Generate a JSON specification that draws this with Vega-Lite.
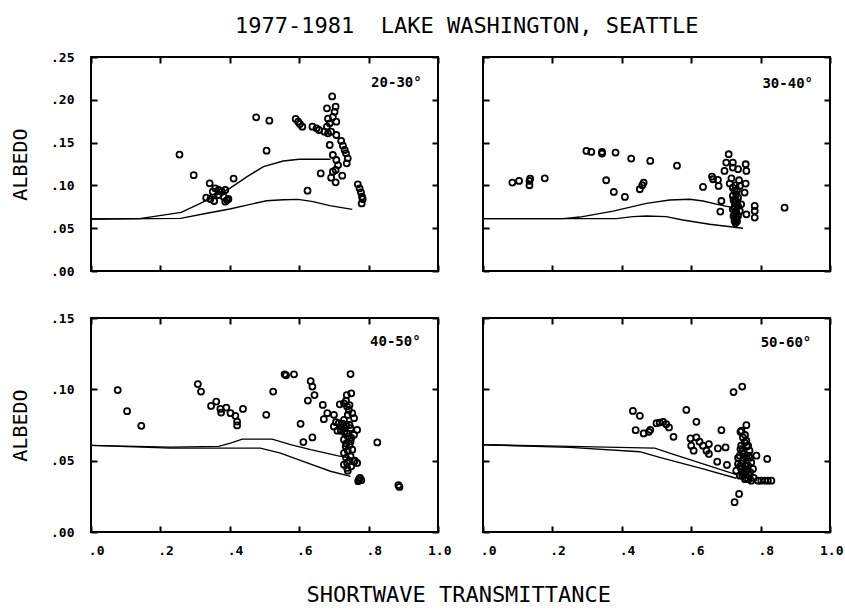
{
  "$schema": "https://vega.github.io/schema/vega-lite/v6.json",
  "background": "white",
  "padding": {"left": 9, "top": 15, "right": 3, "bottom": 5},
  "title": {"text": "1977-1981\u00a0\u00a0LAKE WASHINGTON, SEATTLE", "anchor": "middle", "dx": 40, "font": "DejaVu Sans Mono", "fontSize": 22, "fontWeight": "normal", "color": "black", "offset": 12},
  "datasets": {
    "pts": [
      {"p":"a","x":0.255,"y":0.136},{"p":"a","x":0.296,"y":0.112},{"p":"a","x":0.342,"y":0.1024},{"p":"a","x":0.332,"y":0.0857},{"p":"a","x":0.344,"y":0.0841},{"p":"a","x":0.351,"y":0.0927},{"p":"a","x":0.358,"y":0.0966},{"p":"a","x":0.368,"y":0.0946},{"p":"a","x":0.377,"y":0.0927},{"p":"a","x":0.387,"y":0.0946},{"p":"a","x":0.382,"y":0.0868},{"p":"a","x":0.392,"y":0.0829},{"p":"a","x":0.387,"y":0.081},{"p":"a","x":0.396,"y":0.0841},{"p":"a","x":0.368,"y":0.0888},{"p":"a","x":0.355,"y":0.0818},{"p":"a","x":0.411,"y":0.108},{"p":"a","x":0.476,"y":0.1795},{"p":"a","x":0.514,"y":0.1756},{"p":"a","x":0.506,"y":0.1406},{"p":"a","x":0.59,"y":0.1776},{"p":"a","x":0.597,"y":0.1745},{"p":"a","x":0.602,"y":0.1717},{"p":"a","x":0.609,"y":0.1686},{"p":"a","x":0.638,"y":0.1686},{"p":"a","x":0.65,"y":0.1667},{"p":"a","x":0.657,"y":0.1647},{"p":"a","x":0.662,"y":0.114},{"p":"a","x":0.624,"y":0.0938},
      {"p":"a","x":0.695,"y":0.204},{"p":"a","x":0.68,"y":0.19},{"p":"a","x":0.705,"y":0.192},{"p":"a","x":0.702,"y":0.186},{"p":"a","x":0.697,"y":0.18},{"p":"a","x":0.683,"y":0.178},{"p":"a","x":0.707,"y":0.1745},{"p":"a","x":0.688,"y":0.1725},{"p":"a","x":0.68,"y":0.1686},{"p":"a","x":0.673,"y":0.1628},{"p":"a","x":0.692,"y":0.1628},{"p":"a","x":0.683,"y":0.1608},{"p":"a","x":0.707,"y":0.1589},{"p":"a","x":0.688,"y":0.1472},{"p":"a","x":0.721,"y":0.1519},{"p":"a","x":0.726,"y":0.1464},{"p":"a","x":0.731,"y":0.1414},{"p":"a","x":0.735,"y":0.1375},{"p":"a","x":0.74,"y":0.1316},{"p":"a","x":0.737,"y":0.1258},{"p":"a","x":0.697,"y":0.1355},{"p":"a","x":0.707,"y":0.1297},{"p":"a","x":0.712,"y":0.1238},{"p":"a","x":0.705,"y":0.118},{"p":"a","x":0.697,"y":0.116},{"p":"a","x":0.692,"y":0.109},{"p":"a","x":0.705,"y":0.1036},{"p":"a","x":0.724,"y":0.1114},{"p":"a","x":0.769,"y":0.1012},{"p":"a","x":0.774,"y":0.0966},{"p":"a","x":0.778,"y":0.0919},{"p":"a","x":0.781,"y":0.0868},{"p":"a","x":0.783,"y":0.0841},{"p":"a","x":0.78,"y":0.079},

      {"p":"b","x":0.0845,"y":0.1033},{"p":"b","x":0.104,"y":0.1052},{"p":"b","x":0.134,"y":0.1052},{"p":"b","x":0.134,"y":0.1002},{"p":"b","x":0.136,"y":0.108},{"p":"b","x":0.178,"y":0.1083},{"p":"b","x":0.298,"y":0.1403},{"p":"b","x":0.312,"y":0.1391},{"p":"b","x":0.343,"y":0.1391},{"p":"b","x":0.343,"y":0.1372},{"p":"b","x":0.382,"y":0.1383},{"p":"b","x":0.427,"y":0.1313},{"p":"b","x":0.482,"y":0.1286},{"p":"b","x":0.559,"y":0.1231},{"p":"b","x":0.355,"y":0.106},{"p":"b","x":0.377,"y":0.0924},{"p":"b","x":0.409,"y":0.0865},{"p":"b","x":0.463,"y":0.1033},{"p":"b","x":0.459,"y":0.1002},{"p":"b","x":0.452,"y":0.0955},{"p":"b","x":0.634,"y":0.0982},{"p":"b","x":0.66,"y":0.1103},{"p":"b","x":0.663,"y":0.1072},{"p":"b","x":0.677,"y":0.1064},{"p":"b","x":0.679,"y":0.0994},{"p":"b","x":0.708,"y":0.1364},{"p":"b","x":0.701,"y":0.1267},{"p":"b","x":0.72,"y":0.1267},{"p":"b","x":0.72,"y":0.1208},{"p":"b","x":0.696,"y":0.1169},{"p":"b","x":0.735,"y":0.1189},{"p":"b","x":0.757,"y":0.1247},{"p":"b","x":0.759,"y":0.1169},{"p":"b","x":0.716,"y":0.1083},{"p":"b","x":0.738,"y":0.106},{"p":"b","x":0.711,"y":0.1021},{"p":"b","x":0.757,"y":0.1021},{"p":"b","x":0.72,"y":0.0974},{"p":"b","x":0.74,"y":0.0994},{"p":"b","x":0.754,"y":0.0916},{"p":"b","x":0.72,"y":0.0877},{"p":"b","x":0.687,"y":0.0818},{"p":"b","x":0.684,"y":0.0694},{"p":"b","x":0.73,"y":0.0818},{"p":"b","x":0.744,"y":0.0779},{"p":"b","x":0.725,"y":0.074},{"p":"b","x":0.73,"y":0.0682},{"p":"b","x":0.73,"y":0.0624},{"p":"b","x":0.725,"y":0.0585},{"p":"b","x":0.74,"y":0.0701},{"p":"b","x":0.759,"y":0.0662},{"p":"b","x":0.783,"y":0.076},{"p":"b","x":0.783,"y":0.0701},{"p":"b","x":0.783,"y":0.0624},{"p":"b","x":0.869,"y":0.074},{"p":"b","x":0.725,"y":0.0935},{"p":"b","x":0.73,"y":0.0896},{"p":"b","x":0.735,"y":0.0857},{"p":"b","x":0.725,"y":0.0799},{"p":"b","x":0.735,"y":0.076},{"p":"b","x":0.72,"y":0.0721},{"p":"b","x":0.735,"y":0.0643},{"p":"b","x":0.725,"y":0.0662},{"p":"b","x":0.73,"y":0.0604},
      {"p":"b","x":0.728,"y":0.1},{"p":"b","x":0.732,"y":0.094},{"p":"b","x":0.722,"y":0.083},{"p":"b","x":0.732,"y":0.078},{"p":"b","x":0.728,"y":0.07},{"p":"b","x":0.722,"y":0.064},{"p":"b","x":0.732,"y":0.058},{"p":"b","x":0.728,"y":0.056},

      {"p":"c","x":0.077,"y":0.0995},{"p":"c","x":0.104,"y":0.0847},{"p":"c","x":0.145,"y":0.0744},{"p":"c","x":0.308,"y":0.1037},{"p":"c","x":0.317,"y":0.0984},{"p":"c","x":0.346,"y":0.0884},{"p":"c","x":0.361,"y":0.0914},{"p":"c","x":0.373,"y":0.0863},{"p":"c","x":0.375,"y":0.0837},{"p":"c","x":0.39,"y":0.0872},{"p":"c","x":0.402,"y":0.0833},{"p":"c","x":0.416,"y":0.0814},{"p":"c","x":0.421,"y":0.0774},{"p":"c","x":0.421,"y":0.0747},{"p":"c","x":0.438,"y":0.0863},{"p":"c","x":0.505,"y":0.0821},{"p":"c","x":0.525,"y":0.0984},{"p":"c","x":0.558,"y":0.1105},{"p":"c","x":0.562,"y":0.1098},{"p":"c","x":0.585,"y":0.1105},{"p":"c","x":0.633,"y":0.1058},{"p":"c","x":0.638,"y":0.1019},{"p":"c","x":0.644,"y":0.096},{"p":"c","x":0.625,"y":0.0921},{"p":"c","x":0.668,"y":0.0891},{"p":"c","x":0.671,"y":0.0791},{"p":"c","x":0.604,"y":0.0758},{"p":"c","x":0.612,"y":0.063},{"p":"c","x":0.638,"y":0.0663},{"p":"c","x":0.681,"y":0.0833},{"p":"c","x":0.748,"y":0.1107},{"p":"c","x":0.75,"y":0.0972},{"p":"c","x":0.737,"y":0.096},{"p":"c","x":0.717,"y":0.0895},{"p":"c","x":0.7,"y":0.0821},
      {"p":"c","x":0.729,"y":0.0902},{"p":"c","x":0.738,"y":0.0879},{"p":"c","x":0.743,"y":0.0856},{"p":"c","x":0.753,"y":0.0833},{"p":"c","x":0.758,"y":0.0798},{"p":"c","x":0.729,"y":0.0786},{"p":"c","x":0.714,"y":0.0763},{"p":"c","x":0.7,"y":0.074},{"p":"c","x":0.729,"y":0.0728},{"p":"c","x":0.748,"y":0.0728},{"p":"c","x":0.767,"y":0.0716},{"p":"c","x":0.738,"y":0.0693},{"p":"c","x":0.758,"y":0.0681},{"p":"c","x":0.729,"y":0.0647},{"p":"c","x":0.748,"y":0.0635},{"p":"c","x":0.734,"y":0.06},{"p":"c","x":0.753,"y":0.0577},{"p":"c","x":0.729,"y":0.0553},{"p":"c","x":0.748,"y":0.053},{"p":"c","x":0.758,"y":0.0495},{"p":"c","x":0.738,"y":0.0484},{"p":"c","x":0.767,"y":0.0484},{"p":"c","x":0.738,"y":0.0449},{"p":"c","x":0.729,"y":0.0472},{"p":"c","x":0.772,"y":0.0367},{"p":"c","x":0.775,"y":0.0379},{"p":"c","x":0.779,"y":0.0363},{"p":"c","x":0.77,"y":0.0356},{"p":"c","x":0.825,"y":0.0628},{"p":"c","x":0.886,"y":0.0328},{"p":"c","x":0.889,"y":0.0316},
      {"p":"c","x":0.735,"y":0.092},{"p":"c","x":0.745,"y":0.089},{"p":"c","x":0.74,"y":0.082},{"p":"c","x":0.725,"y":0.076},{"p":"c","x":0.735,"y":0.075},{"p":"c","x":0.745,"y":0.075},{"p":"c","x":0.72,"y":0.071},{"p":"c","x":0.73,"y":0.07},{"p":"c","x":0.74,"y":0.067},{"p":"c","x":0.75,"y":0.066},{"p":"c","x":0.735,"y":0.062},{"p":"c","x":0.745,"y":0.061},{"p":"c","x":0.74,"y":0.057},{"p":"c","x":0.735,"y":0.052},{"p":"c","x":0.745,"y":0.05},{"p":"c","x":0.75,"y":0.046},{"p":"c","x":0.74,"y":0.043},{"p":"c","x":0.71,"y":0.071},{"p":"c","x":0.706,"y":0.077},{"p":"c","x":0.76,"y":0.05},

      {"p":"d","x":0.432,"y":0.0849},{"p":"d","x":0.452,"y":0.0814},{"p":"d","x":0.44,"y":0.0714},{"p":"d","x":0.463,"y":0.0691},{"p":"d","x":0.478,"y":0.0702},{"p":"d","x":0.482,"y":0.0716},{"p":"d","x":0.5,"y":0.0763},{"p":"d","x":0.509,"y":0.0767},{"p":"d","x":0.519,"y":0.0772},{"p":"d","x":0.528,"y":0.0756},{"p":"d","x":0.536,"y":0.0733},{"p":"d","x":0.549,"y":0.0667},{"p":"d","x":0.586,"y":0.0856},{"p":"d","x":0.615,"y":0.0772},{"p":"d","x":0.598,"y":0.0656},{"p":"d","x":0.6,"y":0.0605},{"p":"d","x":0.607,"y":0.057},{"p":"d","x":0.615,"y":0.0663},{"p":"d","x":0.624,"y":0.0633},{"p":"d","x":0.634,"y":0.0605},{"p":"d","x":0.644,"y":0.057},{"p":"d","x":0.651,"y":0.0616},{"p":"d","x":0.651,"y":0.0547},{"p":"d","x":0.677,"y":0.0586},{"p":"d","x":0.675,"y":0.0493},{"p":"d","x":0.687,"y":0.0714},{"p":"d","x":0.699,"y":0.0593},{"p":"d","x":0.703,"y":0.047},{"p":"d","x":0.722,"y":0.0981},{"p":"d","x":0.747,"y":0.1019},{"p":"d","x":0.759,"y":0.0749},{"p":"d","x":0.742,"y":0.0702},{"p":"d","x":0.819,"y":0.0512},{"p":"d","x":0.738,"y":0.0267},{"p":"d","x":0.725,"y":0.0209},{"p":"d","x":0.788,"y":0.0535},
      {"p":"d","x":0.749,"y":0.0663},{"p":"d","x":0.759,"y":0.064},{"p":"d","x":0.744,"y":0.0605},{"p":"d","x":0.764,"y":0.0605},{"p":"d","x":0.749,"y":0.057},{"p":"d","x":0.768,"y":0.057},{"p":"d","x":0.74,"y":0.0535},{"p":"d","x":0.759,"y":0.0523},{"p":"d","x":0.749,"y":0.05},{"p":"d","x":0.773,"y":0.0488},{"p":"d","x":0.735,"y":0.0477},{"p":"d","x":0.764,"y":0.0465},{"p":"d","x":0.744,"y":0.0442},{"p":"d","x":0.778,"y":0.0442},{"p":"d","x":0.754,"y":0.0419},{"p":"d","x":0.768,"y":0.0395},{"p":"d","x":0.74,"y":0.0395},{"p":"d","x":0.759,"y":0.0372},{"p":"d","x":0.773,"y":0.036},{"p":"d","x":0.73,"y":0.043},{"p":"d","x":0.754,"y":0.0628},{"p":"d","x":0.742,"y":0.0581},{"p":"d","x":0.766,"y":0.0535},{"p":"d","x":0.756,"y":0.0465},{"p":"d","x":0.747,"y":0.0395},
      {"p":"d","x":0.745,"y":0.071},{"p":"d","x":0.755,"y":0.068},{"p":"d","x":0.76,"y":0.06},{"p":"d","x":0.75,"y":0.055},{"p":"d","x":0.77,"y":0.052},{"p":"d","x":0.745,"y":0.048},{"p":"d","x":0.76,"y":0.044},{"p":"d","x":0.75,"y":0.041},{"p":"d","x":0.77,"y":0.042},{"p":"d","x":0.755,"y":0.037},{"p":"d","x":0.765,"y":0.037},{"p":"d","x":0.78,"y":0.038},{"p":"d","x":0.74,"y":0.046},{"p":"d","x":0.735,"y":0.052},
      {"p":"d","x":0.793,"y":0.036},{"p":"d","x":0.802,"y":0.036},{"p":"d","x":0.812,"y":0.036},{"p":"d","x":0.821,"y":0.036},{"p":"d","x":0.831,"y":0.036}
    ],
    "curves": [
      {"p":"a","c":"u","x":0,"y":0.0607},{"p":"a","c":"u","x":0.14,"y":0.0612},{"p":"a","c":"u","x":0.26,"y":0.0685},{"p":"a","c":"u","x":0.315,"y":0.079},{"p":"a","c":"u","x":0.353,"y":0.087},{"p":"a","c":"u","x":0.4,"y":0.0966},{"p":"a","c":"u","x":0.449,"y":0.11},{"p":"a","c":"u","x":0.497,"y":0.122},{"p":"a","c":"u","x":0.554,"y":0.1285},{"p":"a","c":"u","x":0.6,"y":0.1305},{"p":"a","c":"u","x":0.69,"y":0.1305},
      {"p":"a","c":"l","x":0,"y":0.0607},{"p":"a","c":"l","x":0.258,"y":0.0615},{"p":"a","c":"l","x":0.334,"y":0.0674},{"p":"a","c":"l","x":0.4,"y":0.0724},{"p":"a","c":"l","x":0.449,"y":0.077},{"p":"a","c":"l","x":0.506,"y":0.082},{"p":"a","c":"l","x":0.554,"y":0.0833},{"p":"a","c":"l","x":0.597,"y":0.0837},{"p":"a","c":"l","x":0.64,"y":0.081},{"p":"a","c":"l","x":0.688,"y":0.0763},{"p":"a","c":"l","x":0.753,"y":0.072},
      {"p":"b","c":"u","x":0,"y":0.0612},{"p":"b","c":"u","x":0.23,"y":0.0612},{"p":"b","c":"u","x":0.279,"y":0.063},{"p":"b","c":"u","x":0.375,"y":0.07},{"p":"b","c":"u","x":0.471,"y":0.079},{"p":"b","c":"u","x":0.538,"y":0.083},{"p":"b","c":"u","x":0.596,"y":0.0838},{"p":"b","c":"u","x":0.634,"y":0.0818},{"p":"b","c":"u","x":0.682,"y":0.0772},{"p":"b","c":"u","x":0.72,"y":0.074},
      {"p":"b","c":"l","x":0,"y":0.0612},{"p":"b","c":"l","x":0.384,"y":0.0612},{"p":"b","c":"l","x":0.432,"y":0.0635},{"p":"b","c":"l","x":0.471,"y":0.0643},{"p":"b","c":"l","x":0.528,"y":0.0635},{"p":"b","c":"l","x":0.576,"y":0.0596},{"p":"b","c":"l","x":0.653,"y":0.0546},{"p":"b","c":"l","x":0.749,"y":0.0499},
      {"p":"c","c":"u","x":0,"y":0.0607},{"p":"c","c":"u","x":0.229,"y":0.0595},{"p":"c","c":"u","x":0.368,"y":0.06},{"p":"c","c":"u","x":0.402,"y":0.0623},{"p":"c","c":"u","x":0.436,"y":0.0651},{"p":"c","c":"u","x":0.522,"y":0.0651},{"p":"c","c":"u","x":0.575,"y":0.0612},{"p":"c","c":"u","x":0.633,"y":0.0577},{"p":"c","c":"u","x":0.719,"y":0.053},{"p":"c","c":"u","x":0.748,"y":0.0519},
      {"p":"c","c":"l","x":0,"y":0.0607},{"p":"c","c":"l","x":0.229,"y":0.0588},{"p":"c","c":"l","x":0.383,"y":0.0588},{"p":"c","c":"l","x":0.488,"y":0.0588},{"p":"c","c":"l","x":0.546,"y":0.0553},{"p":"c","c":"l","x":0.623,"y":0.0484},{"p":"c","c":"l","x":0.69,"y":0.0426},{"p":"c","c":"l","x":0.748,"y":0.039},
      {"p":"d","c":"u","x":0,"y":0.0612},{"p":"d","c":"u","x":0.25,"y":0.06},{"p":"d","c":"u","x":0.495,"y":0.0588},{"p":"d","c":"u","x":0.538,"y":0.0553},{"p":"d","c":"u","x":0.634,"y":0.0477},{"p":"d","c":"u","x":0.73,"y":0.0402},
      {"p":"d","c":"l","x":0,"y":0.0612},{"p":"d","c":"l","x":0.25,"y":0.0593},{"p":"d","c":"l","x":0.452,"y":0.0563},{"p":"d","c":"l","x":0.509,"y":0.0523},{"p":"d","c":"l","x":0.634,"y":0.0442},{"p":"d","c":"l","x":0.73,"y":0.0377}
    ],
    "labels": [
      {"p":"a","x":0.953,"y":0.2196,"t":"20-30°"},
      {"p":"b","x":0.951,"y":0.218,"t":"30-40°"},
      {"p":"c","x":0.95,"y":0.133,"t":"40-50°"},
      {"p":"d","x":0.946,"y":0.1326,"t":"50-60°"}
    ]
  },
  "vconcat": [
    {
      "title": {"text": "SHORTWAVE TRANSMITTANCE", "orient": "bottom", "anchor": "middle", "dx": 32, "font": "DejaVu Sans Mono", "fontSize": 22, "fontWeight": "normal", "color": "black", "offset": 27},
      "bounds": "flush",
      "concat": [
        {
          "width": 347, "height": 214,
          "layer": [
            {"data": {"name": "pts"}, "transform": [{"filter": "datum.p == 'a'"}],
             "mark": {"type": "point", "shape": "circle", "filled": false, "color": "black", "size": 36, "strokeWidth": 1.8, "opacity": 1},
             "encoding": {
               "x": {"field": "x", "type": "quantitative", "scale": {"domain": [0, 1], "nice": false}, "axis": {"values": [0, 0.2, 0.4, 0.6, 0.8, 1], "labels": false, "title": null}},
               "y": {"field": "y", "type": "quantitative", "scale": {"domain": [0, 0.25], "nice": false}, "axis": {"values": [0, 0.05, 0.1, 0.15, 0.2, 0.25], "labelExpr": "substring(format(datum.value, '.2f'), 1)", "title": "ALBEDO"}}
             }},
            {"data": {"name": "curves"}, "transform": [{"filter": "datum.p == 'a'"}],
             "mark": {"type": "line", "color": "black", "strokeWidth": 1.4},
             "encoding": {
               "x": {"field": "x", "type": "quantitative"},
               "y": {"field": "y", "type": "quantitative"},
               "detail": {"field": "c"}
             }},
            {"data": {"name": "labels"}, "transform": [{"filter": "datum.p == 'a'"}],
             "mark": {"type": "text", "align": "right", "baseline": "middle", "font": "DejaVu Sans Mono", "fontSize": 14, "fontWeight": "bold", "color": "black"},
             "encoding": {
               "x": {"field": "x", "type": "quantitative"},
               "y": {"field": "y", "type": "quantitative"},
               "text": {"field": "t"}
             }}
          ]
        },
        {
          "width": 347, "height": 214,
          "layer": [
            {"data": {"name": "pts"}, "transform": [{"filter": "datum.p == 'b'"}],
             "mark": {"type": "point", "shape": "circle", "filled": false, "color": "black", "size": 36, "strokeWidth": 1.8, "opacity": 1},
             "encoding": {
               "x": {"field": "x", "type": "quantitative", "scale": {"domain": [0, 1], "nice": false}, "axis": {"values": [0, 0.2, 0.4, 0.6, 0.8, 1], "labels": false, "title": null}},
               "y": {"field": "y", "type": "quantitative", "scale": {"domain": [0, 0.25], "nice": false}, "axis": {"values": [0, 0.05, 0.1, 0.15, 0.2, 0.25], "labels": false, "title": null}}
             }},
            {"data": {"name": "curves"}, "transform": [{"filter": "datum.p == 'b'"}],
             "mark": {"type": "line", "color": "black", "strokeWidth": 1.4},
             "encoding": {
               "x": {"field": "x", "type": "quantitative"},
               "y": {"field": "y", "type": "quantitative"},
               "detail": {"field": "c"}
             }},
            {"data": {"name": "labels"}, "transform": [{"filter": "datum.p == 'b'"}],
             "mark": {"type": "text", "align": "right", "baseline": "middle", "font": "DejaVu Sans Mono", "fontSize": 14, "fontWeight": "bold", "color": "black"},
             "encoding": {
               "x": {"field": "x", "type": "quantitative"},
               "y": {"field": "y", "type": "quantitative"},
               "text": {"field": "t"}
             }}
          ]
        },
        {
          "width": 347, "height": 214,
          "layer": [
            {"data": {"name": "pts"}, "transform": [{"filter": "datum.p == 'c'"}],
             "mark": {"type": "point", "shape": "circle", "filled": false, "color": "black", "size": 36, "strokeWidth": 1.8, "opacity": 1},
             "encoding": {
               "x": {"field": "x", "type": "quantitative", "scale": {"domain": [0, 1], "nice": false}, "axis": {"values": [0, 0.2, 0.4, 0.6, 0.8, 1], "labelExpr": "datum.value >= 1 ? '1.0' : substring(format(datum.value, '.1f'), 1)", "title": null}},
               "y": {"field": "y", "type": "quantitative", "scale": {"domain": [0, 0.15], "nice": false}, "axis": {"values": [0, 0.05, 0.1, 0.15], "labelExpr": "substring(format(datum.value, '.2f'), 1)", "title": "ALBEDO"}}
             }},
            {"data": {"name": "curves"}, "transform": [{"filter": "datum.p == 'c'"}],
             "mark": {"type": "line", "color": "black", "strokeWidth": 1.4},
             "encoding": {
               "x": {"field": "x", "type": "quantitative"},
               "y": {"field": "y", "type": "quantitative"},
               "detail": {"field": "c"}
             }},
            {"data": {"name": "labels"}, "transform": [{"filter": "datum.p == 'c'"}],
             "mark": {"type": "text", "align": "right", "baseline": "middle", "font": "DejaVu Sans Mono", "fontSize": 14, "fontWeight": "bold", "color": "black"},
             "encoding": {
               "x": {"field": "x", "type": "quantitative"},
               "y": {"field": "y", "type": "quantitative"},
               "text": {"field": "t"}
             }}
          ]
        },
        {
          "width": 347, "height": 214,
          "layer": [
            {"data": {"name": "pts"}, "transform": [{"filter": "datum.p == 'd'"}],
             "mark": {"type": "point", "shape": "circle", "filled": false, "color": "black", "size": 36, "strokeWidth": 1.8, "opacity": 1},
             "encoding": {
               "x": {"field": "x", "type": "quantitative", "scale": {"domain": [0, 1], "nice": false}, "axis": {"values": [0, 0.2, 0.4, 0.6, 0.8, 1], "labelExpr": "datum.value >= 1 ? '1.0' : substring(format(datum.value, '.1f'), 1)", "title": null}},
               "y": {"field": "y", "type": "quantitative", "scale": {"domain": [0, 0.15], "nice": false}, "axis": {"values": [0, 0.05, 0.1, 0.15], "labels": false, "title": null}}
             }},
            {"data": {"name": "curves"}, "transform": [{"filter": "datum.p == 'd'"}],
             "mark": {"type": "line", "color": "black", "strokeWidth": 1.4},
             "encoding": {
               "x": {"field": "x", "type": "quantitative"},
               "y": {"field": "y", "type": "quantitative"},
               "detail": {"field": "c"}
             }},
            {"data": {"name": "labels"}, "transform": [{"filter": "datum.p == 'd'"}],
             "mark": {"type": "text", "align": "right", "baseline": "middle", "font": "DejaVu Sans Mono", "fontSize": 14, "fontWeight": "bold", "color": "black"},
             "encoding": {
               "x": {"field": "x", "type": "quantitative"},
               "y": {"field": "y", "type": "quantitative"},
               "text": {"field": "t"}
             }}
          ]
        }
      ],
      "columns": 2,
      "spacing": {"row": 47, "column": 45}
    }
  ],
  "config": {
    "font": "DejaVu Sans Mono",
    "view": {"stroke": "black", "strokeWidth": 2},
    "axis": {"domain": false, "ticks": false, "grid": true, "gridColor": "black", "gridWidth": 2, "gridOpacity": 1, "labelFont": "DejaVu Sans Mono", "labelFontSize": 13, "labelFontWeight": "bold", "labelColor": "black", "titleFont": "DejaVu Sans Mono", "titleFontSize": 20, "titleFontWeight": "normal", "titleColor": "black"},
    "axisX": {"gridDash": [6, 202, 6, 300], "labelAlign": "right", "labelOffset": 13, "labelPadding": 12},
    "axisY": {"gridDash": [6, 335, 6, 400], "labelPadding": 17, "titlePadding": 20}
  }
}
